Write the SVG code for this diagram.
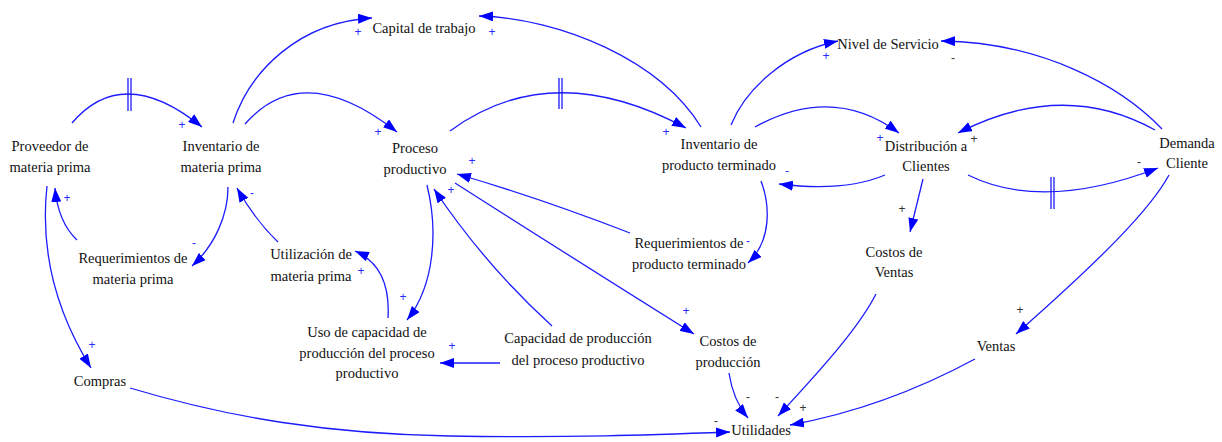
<svg xmlns="http://www.w3.org/2000/svg" width="1222" height="442" viewBox="0 0 1222 442">
<style>
.n{font-family:"Liberation Serif","Times New Roman",serif;font-size:14.5px;fill:#111;text-anchor:middle}
.c{fill:none;stroke:#1c1cff;stroke-width:1.3;marker-end:url(#ah)}
.d{stroke:#1c1cff;stroke-width:1.3}
.s{font-family:"Liberation Sans",Arial,sans-serif;font-size:12px;text-anchor:middle}
.sb{fill:#2a2aff}
.sk{fill:#333}
</style>
<defs>
<marker id="ah" viewBox="0 0 14 10" refX="14" refY="5" markerWidth="14" markerHeight="10" markerUnits="userSpaceOnUse" orient="auto">
<path d="M0,0 L14,5 L0,10 z" fill="#0000ff"/>
</marker>
</defs>
<rect width="1222" height="442" fill="#fff"/>
<g id="connectors">
<path class="c" d="M72,123 Q123,63 202,127"/>
<path class="c" d="M233,123 C250,70 300,22 372,18"/>
<path class="c" d="M245,124 Q303,58 397,132"/>
<path class="c" d="M450,131 Q552,56 686,128"/>
<path class="c" d="M701,127 C660,60 560,18 479,16"/>
<path class="c" d="M731,125 C745,90 785,52 838,41"/>
<path class="c" d="M1162,129 C1120,85 1040,42 941,41"/>
<path class="c" d="M755,127 Q833,84 899,133"/>
<path class="c" d="M1155,130 Q1063,79 958,133"/>
<path class="c" d="M885,175 Q845,192 779,184"/>
<path class="c" d="M968,175 Q1043,212 1158,168"/>
<path class="c" d="M923,179 L910,232"/>
<path class="c" d="M1169,175 C1150,210 1100,260 1016,334"/>
<path class="c" d="M876,294 C860,325 830,360 778,416"/>
<path class="c" d="M975,359 Q884,408 790,425"/>
<path class="c" d="M729,373 Q733,400 748,418"/>
<path class="c" d="M130,388 C230,418 330,434 450,436 S650,435 730,432"/>
<path class="c" d="M47,186 C40,250 55,310 91,368"/>
<path class="c" d="M77,240 Q58,222 55,188"/>
<path class="c" d="M228,187 C228,215 215,245 192,266"/>
<path class="c" d="M278,242 Q255,220 237,188"/>
<path class="c" d="M388,318 C390,285 380,262 355,251"/>
<path class="c" d="M427,185 C438,230 435,285 407,320"/>
<path class="c" d="M552,326 Q485,265 434,189"/>
<path class="c" d="M455,183 Q560,250 694,334"/>
<path class="c" d="M630,233 Q540,198 457,174"/>
<path class="c" d="M761,181 C770,205 772,240 748,263"/>
<path class="c" d="M500,363 L440,363"/>
<path class="d" d="M128,78 V111 M131,78 V111"/>
<path class="d" d="M559,78 V109 M562,78 V109"/>
<path class="d" d="M1051,177 V209 M1054,177 V209"/>
<g class="s">
<text class="sb" x="358" y="36">+</text>
<text class="sb" x="492" y="36">+</text>
<text class="sb" x="182" y="129">+</text>
<text class="sb" x="378" y="136">+</text>
<text class="sb" x="67" y="202">+</text>
<text class="sb" x="252" y="197">-</text>
<text class="sb" x="194" y="247">-</text>
<text class="sb" x="361" y="275">+</text>
<text class="sb" x="403" y="301">+</text>
<text class="sb" x="92" y="349">+</text>
<text class="sb" x="472" y="165">+</text>
<text class="sb" x="451" y="194">+</text>
<text class="sb" x="666" y="136">+</text>
<text class="sb" x="787" y="175">-</text>
<text class="sb" x="826" y="60">+</text>
<text class="sb" x="880" y="142">+</text>
<text class="sb" x="452" y="350">+</text>
<text class="sb" x="748" y="245">-</text>
<text class="sb" x="686" y="315">+</text>
<text class="sk" x="716" y="425">-</text>
<text class="sk" x="953" y="62">-</text>
<text class="sk" x="974" y="143">+</text>
<text class="sk" x="1139" y="166">-</text>
<text class="sk" x="902" y="213">+</text>
<text class="sk" x="1020" y="314">+</text>
<text class="sk" x="803" y="412">+</text>
<text class="sk" x="748" y="401">-</text>
<text class="sk" x="777" y="401">-</text>
</g>
</g>
<g id="capital"><text class="n" x="424" y="33">Capital de trabajo</text></g>
<g id="proveedor"><text class="n" x="50" y="151">Proveedor de</text><text class="n" x="50" y="172">materia prima</text></g>
<g id="inv-mp"><text class="n" x="221" y="151">Inventario de</text><text class="n" x="221" y="172">materia prima</text></g>
<g id="proceso"><text class="n" x="415" y="153">Proceso</text><text class="n" x="415" y="174">productivo</text></g>
<g id="inv-pt"><text class="n" x="719" y="149">Inventario de</text><text class="n" x="719" y="170">producto terminado</text></g>
<g id="nivel"><text class="n" x="888" y="49">Nivel de Servicio</text></g>
<g id="distribucion"><text class="n" x="926" y="151">Distribución a</text><text class="n" x="926" y="171">Clientes</text></g>
<g id="demanda"><text class="n" x="1187" y="148">Demanda</text><text class="n" x="1187" y="168">Cliente</text></g>
<g id="req-mp"><text class="n" x="133" y="263">Requerimientos de</text><text class="n" x="133" y="284">materia prima</text></g>
<g id="utilizacion"><text class="n" x="311" y="259">Utilización de</text><text class="n" x="311" y="281">materia prima</text></g>
<g id="uso"><text class="n" x="367" y="337">Uso de capacidad de</text><text class="n" x="367" y="358">producción del proceso</text><text class="n" x="367" y="378">productivo</text></g>
<g id="compras"><text class="n" x="100" y="386">Compras</text></g>
<g id="capacidad"><text class="n" x="578" y="343">Capacidad de producción</text><text class="n" x="578" y="365">del proceso productivo</text></g>
<g id="req-pt"><text class="n" x="689" y="248">Requerimientos de</text><text class="n" x="689" y="269">producto terminado</text></g>
<g id="costos-prod"><text class="n" x="728" y="346">Costos de</text><text class="n" x="728" y="367">producción</text></g>
<g id="utilidades"><text class="n" x="761" y="435">Utilidades</text></g>
<g id="costos-ventas"><text class="n" x="894" y="257">Costos de</text><text class="n" x="894" y="277">Ventas</text></g>
<g id="ventas"><text class="n" x="996" y="351">Ventas</text></g>
</svg>
